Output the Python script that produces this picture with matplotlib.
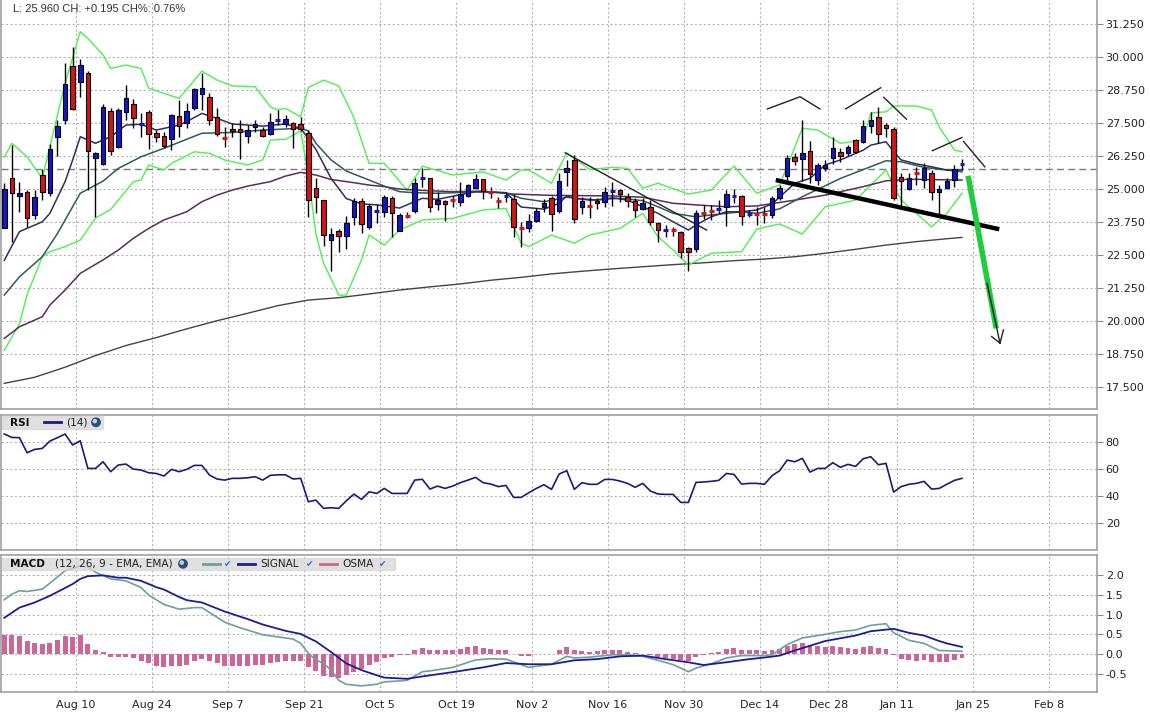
import numpy as np
import pandas as pd
import matplotlib
matplotlib.use("Agg")
import matplotlib.pyplot as plt
from matplotlib.patches import Rectangle, Circle

# ---------------- data ----------------
start_day = "2009-07-27"
end_day = "2010-02-19"
holidays = ["2009-12-25", "2010-01-01"]
tick_dates = ["2009-08-10", "2009-08-24", "2009-09-07", "2009-09-21", "2009-10-05",
              "2009-10-19", "2009-11-02", "2009-11-16", "2009-11-30", "2009-12-14",
              "2009-12-28", "2010-01-11", "2010-01-25", "2010-02-08"]

opens = [23.54,25.40,24.72,24.88,24.00,25.53,24.86,26.98,27.63,29.65,
         29.03,29.40,26.16,25.93,27.95,26.60,27.92,28.20,27.42,27.90,
         27.11,27.00,26.88,27.76,27.48,28.07,28.60,28.49,27.73,26.98,
         27.27,27.27,27.01,27.35,27.22,27.09,27.56,27.46,27.48,27.45,
         27.13,25.03,24.58,23.06,23.40,23.23,23.93,24.54,23.55,24.12,
         24.14,24.65,23.41,24.03,24.16,25.37,25.40,24.42,24.55,24.62,
         24.50,24.74,25.05,25.37,24.91,24.60,24.69,24.61,23.56,23.54,
         23.79,24.33,24.67,24.16,25.63,26.10,24.33,24.41,24.55,24.50,
         24.88,24.96,24.69,24.55,24.23,24.33,23.70,23.40,23.50,23.39,
         22.76,22.72,24.12,24.20,24.21,24.33,24.69,24.74,24.03,24.10,
         24.10,24.02,24.65,25.50,26.22,26.12,26.44,25.34,25.78,26.16,
         26.41,26.35,26.85,26.79,27.38,27.71,27.42,27.26,25.44,25.00,
         25.64,25.34,25.59,24.88,25.03,25.34,25.90]
highs = [25.22,26.66,25.28,24.95,24.96,25.76,26.70,27.61,29.77,30.38,
         29.90,29.47,26.41,28.21,28.05,28.05,28.93,28.40,27.86,27.99,
         27.23,27.17,27.82,28.36,28.25,28.81,29.40,28.62,28.05,27.35,
         27.48,27.61,27.42,27.61,27.35,27.86,27.99,27.80,27.54,27.73,
         27.23,25.40,24.60,23.51,23.48,23.98,24.65,24.65,24.42,24.42,
         24.77,24.74,24.08,24.14,25.42,25.78,25.41,24.90,24.58,24.74,
         25.28,25.20,25.57,25.38,25.09,24.71,24.86,24.81,23.76,24.04,
         24.27,24.61,24.74,25.59,26.10,26.29,24.69,24.71,24.65,25.06,
         25.28,25.00,24.84,24.65,24.66,24.58,23.74,23.64,23.57,23.40,
         22.82,24.21,24.40,24.40,24.58,24.96,24.99,24.77,24.20,24.33,
         24.33,24.72,25.15,26.29,26.35,27.63,26.81,25.97,26.10,26.98,
         26.54,26.66,26.90,27.61,27.92,28.11,27.48,27.35,25.62,25.59,
         25.84,25.97,25.72,25.15,25.40,25.91,26.12]
lows = [23.53,23.01,24.14,23.58,23.87,24.60,24.75,26.25,27.46,27.99,
        28.49,24.96,23.95,25.91,26.29,26.55,27.61,27.31,26.98,26.50,
        26.79,26.54,26.47,26.98,27.31,27.99,27.99,27.42,27.00,26.60,
        26.98,26.12,26.73,27.17,26.97,27.05,27.42,27.35,26.54,27.20,
        23.93,24.10,22.85,21.91,22.63,22.72,23.64,23.34,23.50,23.73,
        23.93,23.17,23.41,23.89,24.10,25.06,24.14,24.21,23.80,24.33,
        24.36,24.70,25.00,24.62,24.65,24.29,24.50,23.20,22.80,23.36,
        23.75,24.12,23.42,24.08,25.12,23.73,24.05,23.92,24.23,24.33,
        24.36,24.52,24.33,23.93,24.20,23.64,23.01,23.20,23.22,22.38,
        21.91,22.63,23.85,23.83,24.10,23.61,24.46,23.64,23.95,23.64,
        23.72,23.90,24.58,25.28,25.91,25.31,25.22,25.15,25.70,25.95,
        26.03,26.25,26.35,26.73,27.13,26.73,26.98,24.58,24.33,24.95,
        25.15,25.03,24.58,23.95,25.00,25.09,25.72]
closes = [24.99,24.84,24.85,23.89,24.69,24.90,26.51,27.38,28.97,28.04,
          29.69,26.45,26.37,28.11,26.45,27.99,28.43,27.67,27.46,27.07,
          26.96,26.63,27.80,27.39,27.95,28.77,28.81,27.61,27.08,26.94,
          27.19,27.17,27.22,27.45,27.01,27.52,27.60,27.65,27.28,27.27,
          24.58,24.69,23.25,23.29,23.23,23.70,24.55,23.68,24.37,24.16,
          24.69,24.08,24.01,23.99,25.24,25.41,24.31,24.58,24.42,24.58,
          24.81,25.14,25.37,24.91,24.89,24.56,24.73,23.55,23.52,23.79,
          24.17,24.46,24.04,25.31,25.78,23.85,24.56,24.37,24.46,24.90,
          24.92,24.80,24.56,24.21,24.46,23.76,23.45,23.44,23.45,22.63,
          22.61,24.08,24.08,24.16,24.25,24.80,24.73,23.99,24.07,24.06,
          24.06,24.65,25.03,26.16,26.06,26.35,25.56,25.91,25.91,26.54,
          26.25,26.58,26.41,27.38,27.63,27.07,27.29,24.65,25.30,25.40,
          25.60,25.78,24.90,24.99,25.31,25.74,25.96]
prev_close = 25.765

bb_up_idx = [0,1,3,5,6,8,10,11,13,14,16,18,19,23,26,28,30,33,35,36,
             37,39,40,42,44,46,48,50,53,55,59,63,66,68,69,72,74,75,77,80,
             82,84,86,90,93,96,99,102,105,107,110,113,114,116,117,120,122,123,125,126]
bb_up = [26.20,26.73,26.22,25.40,26.60,29.00,30.95,30.70,30.07,29.56,
         29.69,29.56,28.81,28.43,29.46,29.12,28.90,28.87,28.11,27.99,
         28.05,27.73,28.84,29.12,28.90,27.70,25.97,25.97,24.96,25.87,
         25.53,25.65,25.34,25.72,25.72,25.22,26.37,26.16,25.74,25.82,
         25.78,25.03,25.22,24.81,24.96,25.87,24.84,25.15,27.30,27.23,
         26.73,26.85,27.88,27.92,28.14,28.14,27.99,27.35,26.47,26.41]
bb_lo_idx = [0,2,3,5,6,8,10,12,14,17,18,19,21,22,25,27,29,32,34,35,
             37,39,40,41,42,44,45,47,48,50,52,55,59,63,66,68,69,72,75,77,
             81,84,86,88,90,93,97,99,102,105,108,112,116,118,122,124,126]
bb_lo = [18.90,19.90,21.00,22.44,22.63,22.82,23.07,23.90,24.23,25.28,
         25.34,25.91,25.72,25.97,26.41,26.35,26.10,25.91,26.10,26.85,
         26.88,27.20,25.50,23.30,22.20,20.99,20.99,22.32,23.26,22.88,
         23.45,23.83,23.89,24.21,24.27,22.95,22.82,23.26,22.95,23.26,
         23.51,24.08,23.20,22.69,22.13,22.57,22.63,23.48,23.68,23.30,
         24.33,24.58,25.72,24.58,23.57,24.08,24.84]
ma_fast_idx = [0,2,5,6,8,9,10,12,14,16,18,20,23,24,26,28,30,34,37,39,
               41,43,45,47,49,52,55,57,62,66,68,71,73,74,75,78,80,82,84,86,
               88,90,91,93,95,97,99,101,104,106,108,110,113,114,116,117,118,120,122,124,126]
ma_fast = [22.30,23.39,23.76,24.08,25.28,26.10,26.98,26.73,26.98,27.42,
           27.45,27.23,27.42,27.55,27.86,27.67,27.46,27.38,27.46,27.30,
           26.50,25.40,24.64,24.44,24.40,24.28,24.65,24.61,24.90,24.86,
           24.32,24.24,24.46,24.74,24.65,24.58,24.67,24.58,24.33,24.08,
           23.76,23.45,23.64,23.95,24.14,24.14,24.21,24.43,25.22,25.40,
           25.91,26.10,26.47,26.66,26.79,26.41,26.10,25.95,25.84,25.72,25.72]
ma_mid_idx = [0,2,5,7,10,13,15,18,21,26,30,34,39,40,41,43,45,48,50,52,
              54,57,63,66,68,71,74,77,81,84,86,88,91,93,97,99,102,105,110,116,
              118,121,126]
ma_mid = [20.99,21.68,22.44,23.32,24.84,25.30,25.78,26.22,26.54,27.11,
          27.14,27.23,27.30,27.20,26.73,26.10,25.68,25.34,25.11,24.90,
          24.86,24.84,24.90,24.86,24.65,24.52,24.69,24.58,24.65,24.56,
          24.33,24.08,23.95,24.02,24.14,24.08,24.25,24.71,25.40,26.07,
          26.03,25.82,25.65]
ma_slow_idx = [0,2,5,6,8,10,13,15,17,19,21,24,26,28,30,32,35,37,39,41,
               43,46,48,50,52,54,59,63,67,72,80,84,88,91,95,99,104,108,113,116,
               119,126]
ma_slow = [19.35,19.79,20.17,20.61,21.18,21.81,22.32,22.69,23.14,23.51,
           23.83,24.14,24.52,24.77,24.96,25.11,25.28,25.49,25.63,25.53,
           25.36,25.24,25.15,25.09,25.00,24.96,24.90,24.92,24.81,24.76,
           24.74,24.69,24.46,24.40,24.33,24.36,24.58,24.77,25.09,25.31,
           25.37,25.34]
ma_long_idx = [0,4,8,12,16,20,24,28,32,36,40,44,48,52,56,60,64,68,72,76,
               80,84,88,92,96,100,104,108,112,116,120,124,126]
ma_long = [17.65,17.88,18.26,18.70,19.08,19.38,19.71,20.02,20.30,20.59,
           20.80,20.89,21.03,21.18,21.30,21.41,21.55,21.66,21.79,21.89,
           21.98,22.06,22.14,22.21,22.29,22.35,22.44,22.57,22.72,22.88,
           23.01,23.12,23.17]

rsi = [85.7,83.2,83.0,71.9,74.4,75.1,80.5,83.0,85.7,77.6,
       80.7,60.4,60.4,65.3,58.0,62.9,63.6,59.9,59.2,57.2,
       56.7,54.8,59.7,58.0,59.7,62.6,62.6,55.5,52.6,51.8,
       53.1,53.1,53.5,54.3,51.8,55.3,55.7,55.7,52.6,53.1,
       35.9,37.1,31.0,31.5,31.0,36.6,41.5,37.6,43.2,42.0,
       45.7,42.0,42.0,42.0,51.8,52.4,45.2,47.4,45.7,47.4,
       49.9,51.8,53.8,49.9,48.9,47.0,47.9,39.1,39.1,42.5,
       45.7,48.4,45.0,56.3,58.7,45.0,49.9,48.7,48.7,52.3,
       52.3,51.1,49.4,46.5,49.4,43.8,41.6,41.3,41.3,35.4,
       35.4,50.1,50.4,50.9,51.6,56.7,56.0,48.9,49.4,49.4,
       48.7,55.0,58.7,66.5,65.3,67.8,57.7,60.4,60.4,64.6,
       61.2,63.4,61.9,67.5,69.0,63.1,64.1,43.0,47.0,48.7,
       49.4,50.9,45.2,45.7,48.7,51.6,53.1]

macd_idx = [0,1,2,3,5,6,8,10,11,12,14,16,18,19,21,23,25,26,29,31,
            34,38,39,40,41,42,43,44,45,47,49,50,53,55,56,59,62,64,66,69,
            72,74,75,77,80,82,84,86,88,90,91,92,93,95,97,100,101,103,105,108,
            110,112,114,116,117,119,121,123,126]
macd = [1.38,1.52,1.61,1.59,1.65,1.80,2.12,2.24,2.21,2.08,
        1.91,1.86,1.69,1.50,1.26,1.14,1.18,1.18,0.81,0.67,
        0.49,0.38,0.27,0.02,-0.15,-0.24,-0.41,-0.67,-0.77,-0.81,
        -0.77,-0.71,-0.67,-0.45,-0.43,-0.34,-0.15,-0.12,-0.13,-0.34,
        -0.26,-0.06,-0.10,-0.08,-0.02,-0.02,-0.06,-0.16,-0.27,-0.45,
        -0.36,-0.30,-0.25,-0.10,-0.04,-0.04,-0.02,0.24,0.41,0.50,
        0.57,0.61,0.73,0.77,0.54,0.35,0.27,0.09,0.07]
signal_idx = [0,1,2,4,6,9,10,11,13,15,16,18,20,21,23,24,26,29,32,34,
              37,39,41,43,45,47,49,50,53,55,59,63,66,69,72,75,78,81,84,87,
              90,92,95,98,100,102,104,108,112,114,117,119,121,123,124,126]
signal = [0.92,1.05,1.18,1.31,1.48,1.78,1.91,1.98,2.00,1.94,
          1.94,1.86,1.70,1.64,1.45,1.37,1.31,1.08,0.89,0.75,
          0.59,0.51,0.32,0.05,-0.24,-0.41,-0.54,-0.60,-0.63,-0.57,
          -0.46,-0.34,-0.23,-0.26,-0.26,-0.16,-0.13,-0.06,-0.04,-0.13,
          -0.21,-0.28,-0.21,-0.13,-0.09,-0.04,0.09,0.33,0.47,0.58,
          0.64,0.54,0.47,0.33,0.27,0.18]
osma = [0.49,0.49,0.46,0.34,0.27,0.26,0.29,0.36,0.46,0.43,
        0.49,0.26,0.09,0.05,-0.07,-0.07,-0.07,-0.11,-0.17,-0.24,
        -0.30,-0.34,-0.30,-0.30,-0.28,-0.17,-0.13,-0.17,-0.24,-0.30,
        -0.30,-0.30,-0.30,-0.28,-0.28,-0.22,-0.20,-0.18,-0.18,-0.17,
        -0.33,-0.43,-0.57,-0.58,-0.61,-0.54,-0.46,-0.39,-0.28,-0.20,
        -0.10,-0.08,-0.03,-0.03,0.09,0.15,0.11,0.11,0.11,0.11,
        0.14,0.17,0.20,0.15,0.13,0.09,0.09,-0.01,-0.04,-0.06,
        -0.01,0.0,0.0,0.09,0.17,0.09,0.07,0.05,0.07,0.09,
        0.09,0.09,0.05,0.03,0.0,-0.03,-0.08,-0.10,-0.12,-0.16,
        -0.19,-0.08,-0.02,0.02,0.04,0.14,0.15,0.11,0.11,0.09,
        0.07,0.10,0.13,0.21,0.26,0.28,0.22,0.20,0.18,0.21,
        0.18,0.15,0.14,0.18,0.21,0.15,0.14,-0.03,-0.13,-0.16,
        -0.19,-0.16,-0.21,-0.21,-0.21,-0.15,-0.09]

# hand-drawn chart annotations (candle index, price)
down_line_x = [73.8, 92.4]
down_line_y = [26.37, 23.45]
neck_x = [101.5, 130.9]
neck_y = [25.34, 23.48]
hs_segments = [([100.4, 104.7, 107.3], [28.03, 28.49, 28.03]),
               ([110.7, 115.3], [28.03, 28.83]),
               ([115.7, 118.7], [28.47, 27.64]),
               ([122.1, 126.0], [26.45, 26.95]),
               ([126.2, 129.0], [26.80, 25.84])]
green_arrow_x = [126.8, 130.5]
green_arrow_y = [25.50, 19.73]
black_arrow_x = [129.3, 131.0]
black_arrow_y = [21.43, 19.17]
arrow_barbs = [([129.9, 131.0], [19.42, 19.17]), ([131.45, 131.0], [19.67, 19.17])]

main_ticks = [17.5, 18.75, 20.0, 21.25, 22.5, 23.75, 25.0, 26.25, 27.5, 28.75, 30.0, 31.25]
rsi_ticks = [20, 40, 60, 80]
macd_ticks = [-0.5, 0.0, 0.5, 1.0, 1.5, 2.0]

# ---------------- positions ----------------
hol = set(pd.to_datetime(holidays))
days = [d for d in pd.bdate_range(start_day, end_day) if d not in hol]
day_pos = {d: k for k, d in enumerate(days)}
n = len(closes)
xs = np.arange(n)
tick_pos = [day_pos[pd.Timestamp(t)] - 0.57 for t in tick_dates]
tick_lab = [f"{pd.Timestamp(t):%b} {pd.Timestamp(t).day}" for t in tick_dates]

W, H = 1150, 717
fig = plt.figure(figsize=(W / 100, H / 100), dpi=100)
fig.patch.set_facecolor("white")

def frac(left, top, right, bottom):
    return [left / W, 1 - bottom / H, (right - left) / W, (bottom - top) / H]

ax = fig.add_axes(frac(1, 0, 1097.3, 409))
ax_r = fig.add_axes(frac(1, 414.7, 1097.3, 550))
ax_m = fig.add_axes(frac(1, 555, 1097.3, 692))

XL = (-0.43, 143.8)
spine_col = "#a0a0a0"
grid_kw = dict(color="#b4b4b4", lw=0.8, ls=(0, (2, 2)))

for a in (ax, ax_r, ax_m):
    a.set_xlim(*XL)
    a.set_xticks(tick_pos)
    a.yaxis.tick_right()
    a.tick_params(axis="y", which="both", length=4, width=0.8, color="#888888",
                  labelsize=8, labelcolor="#222222", pad=2)
    a.tick_params(axis="x", length=0, labelbottom=False)
    a.grid(True, **grid_kw)
    a.set_axisbelow(True)
    for s in a.spines.values():
        s.set_color(spine_col)
        s.set_linewidth(1.2)
ax.spines["top"].set_visible(False)

# ---------------- main panel ----------------
ax.set_ylim(16.68, 32.15)
ax.set_yticks(main_ticks)
ax.set_yticklabels([f"{v:.3f}" for v in main_ticks])

ax.axhline(prev_close, color="#7a7a7a", lw=1.0, ls=(0, (5, 3)), zorder=2)

ax.plot(ma_long_idx, ma_long, color="#444444", lw=1.0, zorder=3)
ax.plot(bb_up_idx, bb_up, color="#4ef04e", lw=1.0, zorder=3)
ax.plot(bb_lo_idx, bb_lo, color="#4ef04e", lw=1.0, zorder=3)
ax.plot(ma_slow_idx, ma_slow, color="#5a2d5a", lw=1.1, zorder=3)
ax.plot(ma_mid_idx, ma_mid, color="#2d5a5a", lw=1.1, zorder=3)
ax.plot(ma_fast_idx, ma_fast, color="#2e2e62", lw=1.1, zorder=3)

o = np.array(opens); h = np.array(highs); l = np.array(lows); c = np.array(closes)
up = c >= o
ax.vlines(xs, l, h, color="black", lw=1.0, zorder=4)
body = np.abs(c - o)
doji = body < 0.065
cols = np.where(up, "#1616c8", "#d21616")
big = ~doji
ax.bar(xs[big], body[big], bottom=np.minimum(o, c)[big], width=0.6,
       color=cols[big], edgecolor="black", linewidth=0.8, zorder=5)
ax.hlines(c[doji], xs[doji] - 0.32, xs[doji] + 0.32, colors=cols[doji], lw=2.2, zorder=5)

# annotations
ax.plot(down_line_x, down_line_y, color="#222222", lw=1.0, zorder=6)
ax.plot(neck_x, neck_y, color="black", lw=3.2, zorder=6, solid_capstyle="butt")
for sx, sy in hs_segments:
    ax.plot(sx, sy, color="#222222", lw=1.0, zorder=6)
ax.plot(green_arrow_x, green_arrow_y, color="#1ecc3c", lw=4.0, zorder=6, solid_capstyle="butt")
ax.plot(black_arrow_x, black_arrow_y, color="#222222", lw=1.0, zorder=7)
for bx, by in arrow_barbs:
    ax.plot(bx, by, color="#222222", lw=1.0, zorder=7)

# ---------------- RSI panel ----------------
ax_r.set_ylim(0.4, 99.9)
ax_r.set_yticks(rsi_ticks)
ax_r.set_yticklabels([str(v) for v in rsi_ticks])
ax_r.plot(xs, rsi, color="#1c1c78", lw=1.2, zorder=3)

# ---------------- MACD panel ----------------
ax_m.set_ylim(-0.966, 2.518)
ax_m.set_yticks(macd_ticks)
ax_m.set_yticklabels([f"{v:.1f}" for v in macd_ticks])
ax_m.bar(xs, osma, width=0.65, color="#cc6699", zorder=2)
ax_m.plot(macd_idx, macd, color="#6e9e9e", lw=1.2, zorder=3)
ax_m.plot(signal_idx, signal, color="#1c1c9a", lw=1.3, zorder=4)
ax_m.set_xticklabels(tick_lab)
ax_m.tick_params(axis="x", labelbottom=True, labelsize=8, labelcolor="#222222", pad=6)

# ---------------- overlay (headers) ----------------
ov = fig.add_axes([0, 0, 1, 1], zorder=20)
ov.set_xlim(0, W)
ov.set_ylim(H, 0)
ov.axis("off")
ov.patch.set_alpha(0)

ov.text(13, 9, "L: 25.960 CH: +0.195 CH%: 0.76%", fontsize=8,
        family="Liberation Sans", color="#333333", va="center", ha="left")

def globe(x, y):
    ov.add_patch(Circle((x, y), 4.2, color="#2e4d78", zorder=22))
    ov.add_patch(Circle((x - 1.2, y - 1.2), 1.6, color="#b8d4f0", zorder=23))

def check(x, y):
    ov.text(x, y, "\u2714", fontsize=6.5, color="#2a6fd6", ha="center", va="center",
            family="DejaVu Sans", zorder=23)

# RSI header
ov.add_patch(Rectangle((2, 416), 101, 12.5, color="#d6d6d6", alpha=0.75, zorder=21))
ov.text(10, 422.5, "RSI", fontsize=7.6, weight="bold", color="#111111", va="center", zorder=22)
ov.plot([44, 61], [422.3, 422.3], color="#1c1c78", lw=2.0, zorder=22)
ov.text(66, 422.5, "(14)", fontsize=7.6, color="#222222", va="center", zorder=22)
globe(96, 422.3)

# MACD header
ov.add_patch(Rectangle((2, 557.5), 393, 12.5, color="#d6d6d6", alpha=0.75, zorder=21))
ov.text(10, 564, "MACD", fontsize=7.6, weight="bold", color="#111111", va="center", zorder=22)
ov.text(55, 564, "(12, 26, 9 - EMA, EMA)", fontsize=7.6, color="#222222", va="center", zorder=22)
globe(183, 563.8)
ov.plot([203, 220], [563.5, 563.5], color="#6e9e9e", lw=2.0, zorder=22)
check(228, 564)
ov.plot([238, 255], [563.5, 563.5], color="#1c1c9a", lw=2.0, zorder=22)
ov.text(260, 564, "SIGNAL", fontsize=7.6, color="#222222", va="center", zorder=22)
check(310, 564)
ov.plot([320, 337], [563.5, 563.5], color="#cc6699", lw=2.0, zorder=22)
ov.text(342, 564, "OSMA", fontsize=7.6, color="#222222", va="center", zorder=22)
check(383, 564)

fig.savefig("out.png", dpi=100, facecolor="white")
